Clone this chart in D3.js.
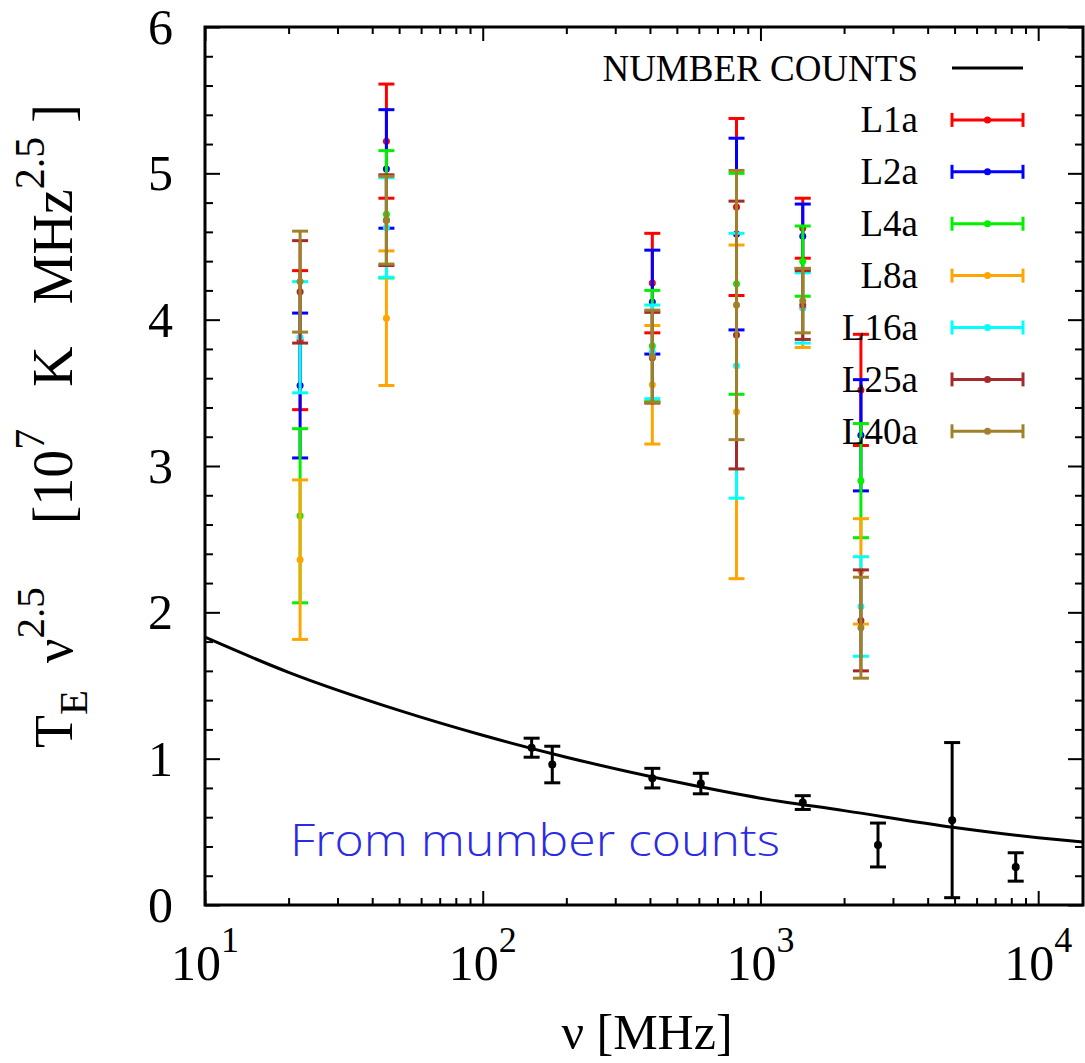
<!DOCTYPE html>
<html>
<head>
<meta charset="utf-8">
<script src="https://cdn.jsdelivr.net/npm/d3@7"></script>
<style>
  html, body { margin: 0; padding: 0; background: #fff; }
  svg { display: block; }
  text { fill: #000; }
</style>
</head>
<body>
<svg id="chart" width="1085" height="1063"></svg>
<script>
// ---------------- data ----------------
const freqs = [22, 45, 408, 820, 1420, 2300];           // MHz
const seriesNames = ["L1a", "L2a", "L4a", "L8a", "L16a", "L25a", "L40a"];
const seriesColors = ["#ff0000", "#0000ff", "#00f000", "#ffa500", "#00ffff", "#a52a2a", "#a0802a"];
const L1a  = [3.86, 5.22, 4.25, 4.77, 4.625, 3.52];
const L1aErr  = [0.475, 0.39, 0.34, 0.605, 0.205, 0.38];
const L2a  = [3.55, 5.03, 4.12, 4.585, 4.57, 3.21];
const L2aErr  = [0.495, 0.405, 0.355, 0.655, 0.22, 0.38];
const L4a  = [2.66, 4.72, 3.82, 4.245, 4.40, 2.90];
const L4aErr  = [0.595, 0.435, 0.38, 0.755, 0.24, 0.39];
const L8a  = [2.36, 4.01, 3.555, 3.37, 4.08, 2.28];
const L8aErr  = [0.545, 0.46, 0.405, 1.14, 0.27, 0.36];
const L16a = [3.88, 4.63, 3.78, 3.685, 4.08, 2.04];
const L16aErr = [0.38, 0.34, 0.32, 0.905, 0.24, 0.34];
const L25a = [4.19, 4.68, 3.74, 3.895, 4.10, 1.945];
const L25aErr = [0.35, 0.31, 0.31, 0.915, 0.235, 0.345];
const L40a = [4.26, 4.68, 3.75, 4.10, 4.13, 1.895];
const L40aErr = [0.345, 0.30, 0.315, 0.92, 0.22, 0.345];

// number-count points (black)
const ncFreq = [150, 178, 408, 610, 1420, 2650, 4900, 8300];
const ncVal  = [1.075, 0.96, 0.867, 0.83, 0.70, 0.41, 0.58, 0.26];
const ncErr  = [0.065, 0.125, 0.067, 0.07, 0.047, 0.15, 0.53, 0.097];

// number-count curve
const curveFreq = [10, 20, 50, 100, 200, 500, 1000, 2000, 5000, 10000, 14500];
const curveVal  = [1.83, 1.59, 1.33, 1.16, 1.01, 0.84, 0.73, 0.645, 0.53, 0.46, 0.43];

const yTicks = [0, 1, 2, 3, 4, 5, 6];
const xMajor = [10, 100, 1000, 10000];
const xMajorExp = ["1", "2", "3", "4"];

const seriesVals = [L1a, L2a, L4a, L8a, L16a, L25a, L40a];
const seriesErrs = [L1aErr, L2aErr, L4aErr, L8aErr, L16aErr, L25aErr, L40aErr];

// ---------------- layout ----------------
const SERIF = "'Liberation Serif', 'DejaVu Serif', serif";
const L = 205, R = 1083, T = 27, B = 905;
const svg = d3.select("#chart").style("font-family", SERIF);
const x = d3.scaleLog().domain([10, 14500]).range([L, R]);
const y = d3.scaleLinear().domain([0, 6]).range([B, T]);

// minor ticks
const xMinor = [];
for (let d = 10; d < 14500; d *= 10) for (let k = 2; k <= 9; k++) if (d * k <= 14500) xMinor.push(d * k);
const yMinor = d3.range(0, 30).map(i => i * 0.2).filter(v => Math.abs(v - Math.round(v)) > 1e-6);

function axisG(axis, tx, ty) {
  const g = svg.append("g").attr("transform", `translate(${tx},${ty})`).call(axis);
  g.select(".domain").remove();
  g.selectAll("line").attr("stroke", "#000").attr("stroke-width", 2);
  g.selectAll("text").remove();
  return g;
}
axisG(d3.axisBottom(x).tickValues(xMinor).tickSize(-7), 0, B);
axisG(d3.axisBottom(x).tickValues(xMajor).tickSize(-14), 0, B);
axisG(d3.axisTop(x).tickValues(xMinor).tickSize(-7), 0, T);
axisG(d3.axisTop(x).tickValues(xMajor).tickSize(-14), 0, T);
axisG(d3.axisLeft(y).tickValues(yMinor).tickSize(-8), L, 0);
axisG(d3.axisLeft(y).tickValues(yTicks).tickSize(-15), L, 0);
axisG(d3.axisRight(y).tickValues(yMinor).tickSize(-8), R, 0);
axisG(d3.axisRight(y).tickValues(yTicks).tickSize(-15), R, 0);

// y tick labels
svg.append("g").selectAll("text").data(yTicks).join("text")
  .attr("x", 173).attr("y", d => y(d) + 17)
  .attr("text-anchor", "end").attr("font-size", 50)
  .text(d => d);

// x tick labels 10^n
const xl = svg.append("g").selectAll("text").data(xMajor).join("text")
  .attr("x", d => x(d)).attr("y", 980).attr("text-anchor", "middle");
xl.append("tspan").attr("font-size", 50).text("10");
xl.append("tspan").attr("font-size", 36).attr("dy", -28).text((d, i) => xMajorExp[i]);

// x label
svg.append("text").attr("x", 647).attr("y", 1049).attr("text-anchor", "middle")
  .attr("font-size", 50).text("ν [MHz]");

// y label (two parts)
const ylA = svg.append("text").attr("transform", "rotate(-90)")
  .attr("x", -748).attr("y", 72).attr("text-anchor", "start");
ylA.append("tspan").attr("font-size", 54).text("T");
ylA.append("tspan").attr("font-size", 41).attr("dy", 15).text("E");
ylA.append("tspan").attr("font-size", 54).attr("dy", -15).text("\u00a0\u00a0ν");
ylA.append("tspan").attr("font-size", 41).attr("dy", -28).text("2.5");

const ylB = svg.append("text").attr("transform", "rotate(-90)")
  .attr("x", -104).attr("y", 72).attr("text-anchor", "end");
ylB.append("tspan").attr("font-size", 56).text("[10");
ylB.append("tspan").attr("font-size", 42).attr("dy", -28).text("7");
ylB.append("tspan").attr("font-size", 56).attr("dy", 28).text("\u00a0\u00a0\u00a0K\u00a0\u00a0\u00a0MHz");
ylB.append("tspan").attr("font-size", 42).attr("dy", -28).text("2.5");
ylB.append("tspan").attr("font-size", 56).attr("dy", 28).text("\u00a0]");

// clip
svg.append("clipPath").attr("id", "clip").append("rect")
  .attr("x", L).attr("y", T).attr("width", R - L).attr("height", B - T);

// number counts curve
const line = d3.line().x((d, i) => x(curveFreq[i])).y(d => y(d)).curve(d3.curveMonotoneX);
svg.append("path").attr("clip-path", "url(#clip)").datum(curveVal)
  .attr("d", line).attr("fill", "none").attr("stroke", "#000").attr("stroke-width", 3);

// number count points
const capW = 8;
const nc = svg.append("g").selectAll("g").data(ncVal).join("g");
nc.append("line").attr("x1", (d, i) => x(ncFreq[i])).attr("x2", (d, i) => x(ncFreq[i]))
  .attr("y1", (d, i) => y(d - ncErr[i])).attr("y2", (d, i) => y(d + ncErr[i]))
  .attr("stroke", "#000").attr("stroke-width", 3);
[-1, 1].forEach(s => {
  nc.append("line").attr("x1", (d, i) => x(ncFreq[i]) - capW).attr("x2", (d, i) => x(ncFreq[i]) + capW)
    .attr("y1", (d, i) => y(d + s * ncErr[i])).attr("y2", (d, i) => y(d + s * ncErr[i]))
    .attr("stroke", "#000").attr("stroke-width", 3);
});
nc.append("circle").attr("cx", (d, i) => x(ncFreq[i])).attr("cy", d => y(d)).attr("r", 4).attr("fill", "#000");

// annotation
svg.append("text").attr("x", 290).attr("y", 856)
  .style("font-family", "'Open Sans', 'Lato', sans-serif").style("font-weight", 300)
  .attr("font-size", 44).attr("textLength", 490).attr("lengthAdjust", "spacingAndGlyphs")
  .style("fill", "#2b2be6").text("From mumber counts");

// coloured error bars
seriesVals.forEach((vals, si) => {
  const errs = seriesErrs[si], col = seriesColors[si];
  const g = svg.append("g").selectAll("g").data(vals).join("g");
  g.append("line").attr("x1", (d, i) => x(freqs[i])).attr("x2", (d, i) => x(freqs[i]))
    .attr("y1", (d, i) => y(d - errs[i])).attr("y2", (d, i) => y(d + errs[i]))
    .attr("stroke", col).attr("stroke-width", 3);
  [-1, 1].forEach(s => {
    g.append("line").attr("x1", (d, i) => x(freqs[i]) - capW).attr("x2", (d, i) => x(freqs[i]) + capW)
      .attr("y1", (d, i) => y(d + s * errs[i])).attr("y2", (d, i) => y(d + s * errs[i]))
      .attr("stroke", col).attr("stroke-width", 3);
  });
  g.append("circle").attr("cx", (d, i) => x(freqs[i])).attr("cy", d => y(d)).attr("r", 3.5).attr("fill", col);
});

// legend
const legY0 = 68, legDy = 51.9, legX1 = 952, legX2 = 1023, legTextX = 918;
svg.append("text").attr("x", legTextX).attr("y", legY0 + 12.5).attr("text-anchor", "end")
  .attr("font-size", 37).text("NUMBER COUNTS");
svg.append("line").attr("x1", legX1).attr("x2", legX2).attr("y1", legY0).attr("y2", legY0)
  .attr("stroke", "#000").attr("stroke-width", 3);
seriesNames.forEach((nm, i) => {
  const yy = legY0 + legDy * (i + 1), col = seriesColors[i];
  svg.append("text").attr("x", legTextX).attr("y", yy + 12.5).attr("text-anchor", "end")
    .attr("font-size", 37).text(nm);
  const g = svg.append("g").attr("stroke", col).attr("stroke-width", 3);
  g.append("line").attr("x1", legX1).attr("x2", legX2).attr("y1", yy).attr("y2", yy);
  g.append("line").attr("x1", legX1).attr("x2", legX1).attr("y1", yy - 7).attr("y2", yy + 7);
  g.append("line").attr("x1", legX2).attr("x2", legX2).attr("y1", yy - 7).attr("y2", yy + 7);
  svg.append("circle").attr("cx", (legX1 + legX2) / 2).attr("cy", yy).attr("r", 3.5).attr("fill", col);
});

// frame
svg.append("rect").attr("x", L).attr("y", T).attr("width", R - L).attr("height", B - T)
  .attr("fill", "none").attr("stroke", "#000").attr("stroke-width", 3);
</script>
</body>
</html>
